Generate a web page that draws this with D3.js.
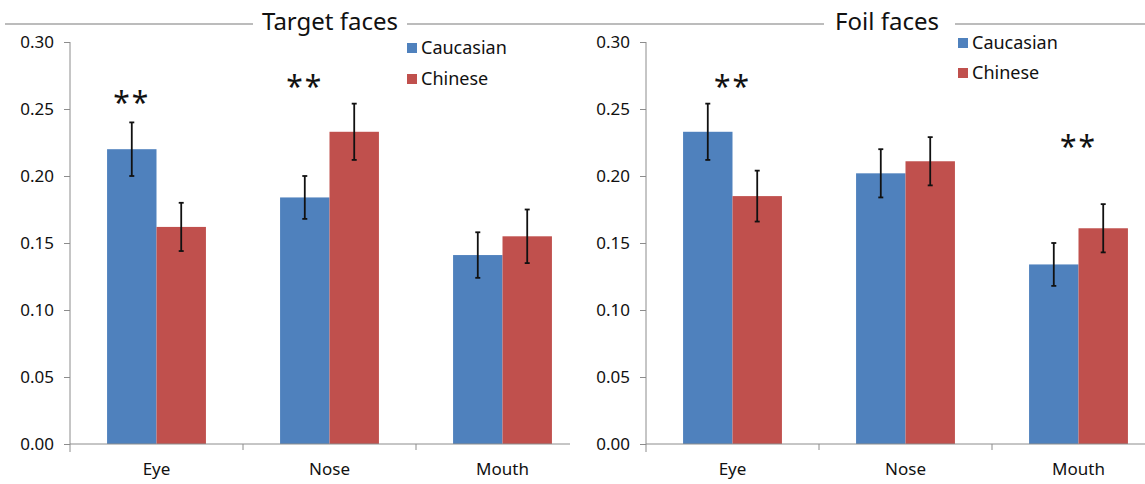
<!DOCTYPE html>
<html>
<head>
<meta charset="utf-8">
<script src="https://cdn.jsdelivr.net/npm/d3@7"></script>
<style>
  body { margin: 0; background: #fff; }
  text { font-family: "Noto Sans", sans-serif; fill: #111; }
</style>
</head>
<body>
<div id="chart"></div>
<script>
// Data
var categories = ["Eye", "Nose", "Mouth"];
var seriesNames = ["Caucasian", "Chinese"];
var yTicks = [0, 0.05, 0.10, 0.15, 0.20, 0.25, 0.30];

var targetCaucasian = [0.220, 0.184, 0.141];
var targetChinese = [0.162, 0.233, 0.155];
var targetCaucasianErr = [0.020, 0.016, 0.017];
var targetChineseErr = [0.018, 0.021, 0.020];

var foilCaucasian = [0.233, 0.202, 0.134];
var foilChinese = [0.185, 0.211, 0.161];
var foilCaucasianErr = [0.021, 0.018, 0.016];
var foilChineseErr = [0.019, 0.018, 0.018];

// significance marks: category, bar they sit over (null = pair centre), height in data units
var targetStars = [["Eye", "Caucasian", 0.260], ["Nose", "Caucasian", 0.272]];
var foilStars = [["Eye", null, 0.272], ["Mouth", null, 0.227]];

var colors = { "Caucasian": "#4F81BD", "Chinese": "#C0504D" };
var axisColor = "#8c8c8c";

var svgWidth = 1145;
var svgHeight = 484;

var svg = d3.select("#chart")
  .append("svg")
  .attr("width", svgWidth)
  .attr("height", svgHeight);

svg.append("rect").attr("width", svgWidth).attr("height", svgHeight).attr("fill", "#fff");

// title rule running across the top
var titleY = 24;

function drawPanel(opts) {
  var g = svg.append("g");

  var x0 = d3.scaleBand()
    .domain(categories)
    .range([opts.left, opts.left + 519])
    .paddingInner(0)
    .paddingOuter(0);

  var x1 = d3.scaleBand()
    .domain(seriesNames)
    .range([0, x0.bandwidth()])
    .paddingInner(0)
    .paddingOuter(0.75);

  var y = d3.scaleLinear()
    .domain([0, 0.30])
    .range([444, 42]);

  var rows = categories.map(function(c, i) {
    return {
      cat: c,
      values: [
        { name: "Caucasian", v: opts.cau[i], e: opts.cauErr[i] },
        { name: "Chinese", v: opts.chi[i], e: opts.chiErr[i] }
      ]
    };
  });

  // bars
  var groups = g.selectAll(".cat")
    .data(rows)
    .enter()
    .append("g")
    .attr("transform", function(d) { return "translate(" + x0(d.cat) + ",0)"; });

  groups.selectAll("rect")
    .data(function(d) { return d.values; })
    .enter()
    .append("rect")
    .attr("x", function(d) { return x1(d.name); })
    .attr("y", function(d) { return y(d.v); })
    .attr("width", x1.bandwidth())
    .attr("height", function(d) { return y(0) - y(d.v); })
    .attr("fill", function(d) { return colors[d.name]; });

  // error bars
  var err = groups.selectAll(".err")
    .data(function(d) { return d.values; })
    .enter()
    .append("g")
    .attr("stroke", "#111")
    .attr("stroke-width", 1.8);

  err.append("line")
    .attr("x1", function(d) { return x1(d.name) + x1.bandwidth() / 2; })
    .attr("x2", function(d) { return x1(d.name) + x1.bandwidth() / 2; })
    .attr("y1", function(d) { return y(d.v + d.e); })
    .attr("y2", function(d) { return y(d.v - d.e); });

  [1, -1].forEach(function(s) {
    err.append("line")
      .attr("x1", function(d) { return x1(d.name) + x1.bandwidth() / 2 - 2.5; })
      .attr("x2", function(d) { return x1(d.name) + x1.bandwidth() / 2 + 2.5; })
      .attr("y1", function(d) { return y(d.v + s * d.e); })
      .attr("y2", function(d) { return y(d.v + s * d.e); });
  });

  // y axis
  var leftAxis = d3.axisLeft(y)
    .tickValues(yTicks)
    .tickFormat(d3.format(".2f"))
    .tickSize(6)
    .tickSizeOuter(0)
    .tickPadding(10);

  var yAxis = g.append("g")
    .attr("transform", "translate(" + opts.left + ",0)")
    .call(leftAxis);
  yAxis.select(".domain").attr("stroke", axisColor).attr("d", "M0,42V452");
  yAxis.selectAll(".tick line").attr("stroke", axisColor);
  yAxis.selectAll("text")
    .attr("font-size", 17)
    .attr("font-family", "Noto Sans, sans-serif")
    .attr("fill", "#111");

  // x axis: labels under the categories, tick marks on category boundaries
  var bottomAxis = d3.axisBottom(x0).tickSize(0).tickPadding(19);
  var xAxis = g.append("g")
    .attr("transform", "translate(0,444)")
    .call(bottomAxis);
  xAxis.select(".domain")
    .attr("stroke", axisColor)
    .attr("d", "M" + opts.left + ",0H" + opts.axisEnd);
  xAxis.selectAll("text")
    .attr("font-size", 17)
    .attr("font-family", "Noto Sans, sans-serif")
    .attr("fill", "#111");

  g.selectAll(".bound")
    .data(categories.slice(1))
    .enter()
    .append("line")
    .attr("x1", function(d) { return x0(d); })
    .attr("x2", function(d) { return x0(d); })
    .attr("y1", 444)
    .attr("y2", 450)
    .attr("stroke", axisColor);

  // significance stars
  g.selectAll(".star")
    .data(opts.stars)
    .enter()
    .append("text")
    .attr("x", function(d) {
      if (d[1]) return x0(d[0]) + x1(d[1]) + x1.bandwidth() / 2;
      return x0(d[0]) + x0.bandwidth() / 2;
    })
    .attr("y", function(d) { return y(d[2]) + 17; })
    .attr("text-anchor", "middle")
    .attr("font-family", "DejaVu Sans, sans-serif")
    .attr("font-size", 30)
    .attr("letter-spacing", 2)
    .text("**");

  // legend
  var legend = g.selectAll(".legend")
    .data(seriesNames)
    .enter()
    .append("g")
    .attr("transform", function(d, i) {
      return "translate(" + opts.legendX + "," + (opts.legendY + i * opts.legendStep) + ")";
    });
  legend.append("rect")
    .attr("x", 0)
    .attr("y", -5)
    .attr("width", 10)
    .attr("height", 10)
    .attr("fill", function(d) { return colors[d]; });
  legend.append("text")
    .attr("x", 14)
    .attr("y", 6)
    .attr("font-size", 18)
    .text(function(d) { return d; });

  // title
  svg.append("text")
    .attr("x", opts.titleX)
    .attr("y", 30)
    .attr("text-anchor", "middle")
    .attr("font-size", 24)
    .text(opts.title);
}

// gray rule broken by the two titles
var ruleSegments = [[5, 253], [407, 824], [955, 1145]];
svg.selectAll(".rule")
  .data(ruleSegments)
  .enter()
  .append("line")
  .attr("x1", function(d) { return d[0]; })
  .attr("x2", function(d) { return d[1]; })
  .attr("y1", titleY)
  .attr("y2", titleY)
  .attr("stroke", "#a6a6a6")
  .attr("stroke-width", 1.5);

drawPanel({
  title: "Target faces", titleX: 330, left: 70, axisEnd: 570,
  cau: targetCaucasian, chi: targetChinese,
  cauErr: targetCaucasianErr, chiErr: targetChineseErr,
  stars: targetStars, legendX: 407, legendY: 48, legendStep: 31
});

drawPanel({
  title: "Foil faces", titleX: 887, left: 646, axisEnd: 1145,
  cau: foilCaucasian, chi: foilChinese,
  cauErr: foilCaucasianErr, chiErr: foilChineseErr,
  stars: foilStars, legendX: 958, legendY: 43, legendStep: 30
});
</script>
</body>
</html>
